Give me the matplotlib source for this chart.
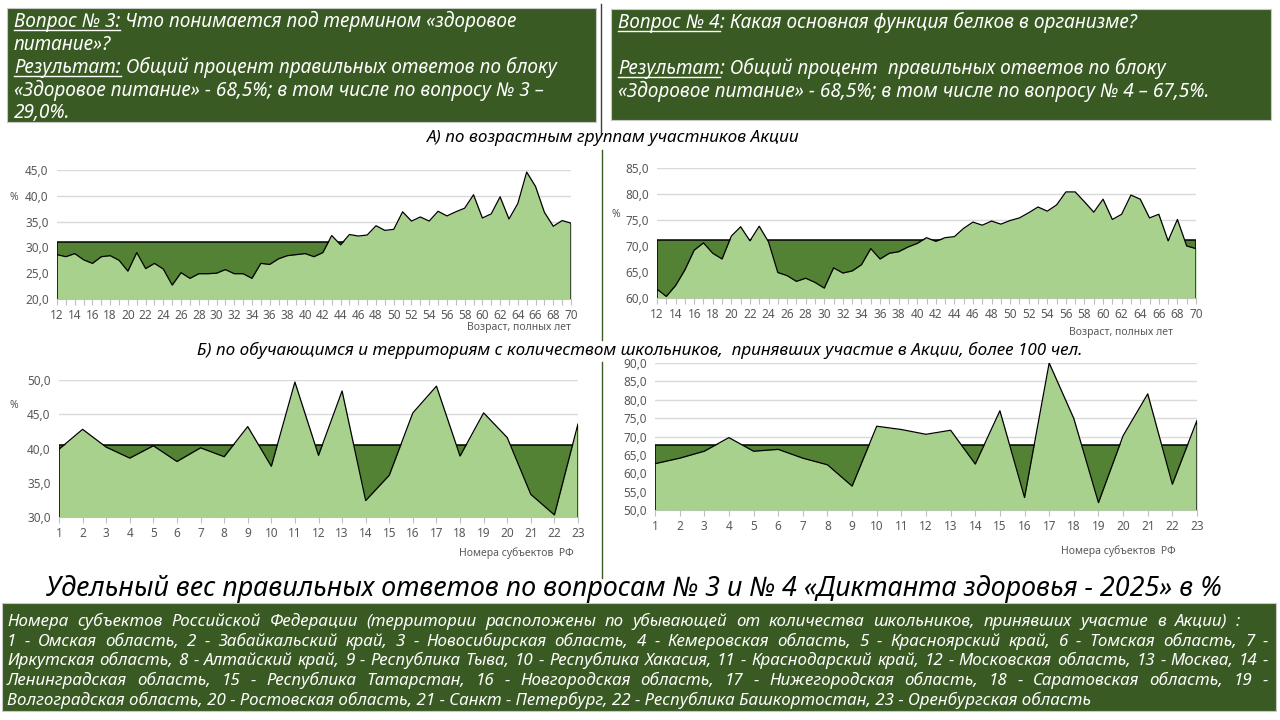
import numpy as np
import matplotlib
matplotlib.use("Agg")
import matplotlib.pyplot as plt
from matplotlib.patches import Rectangle
from matplotlib.lines import Line2D

# ── data ──────────────────────────────────────────────────────
ages = list(range(12, 71))
q3_by_age = [28.6, 28.2, 28.8, 27.6, 26.9, 28.2, 28.4, 27.5, 25.4, 29.0,
             25.9, 26.9, 25.8, 22.7, 25.1, 24.0, 24.9, 24.9, 25.0, 25.7,
             24.9, 24.9, 24.0, 26.9, 26.7, 27.8, 28.4, 28.6, 28.8, 28.2,
             29.0, 32.3, 30.5, 32.5, 32.2, 32.4, 34.2, 33.3, 33.5, 36.9,
             35.1, 35.9, 35.1, 37.0, 36.1, 36.9, 37.6, 40.2, 35.7, 36.5,
             39.8, 35.5, 38.5, 44.6, 41.8, 36.8, 34.1, 35.2, 34.7]
q3_age_avg = 31.0
q4_by_age = [61.7, 60.3, 62.4, 65.4, 69.2, 70.6, 68.6, 67.5, 71.9, 73.7,
             71.0, 73.8, 70.8, 64.9, 64.3, 63.2, 63.8, 63.0, 61.9, 65.8,
             64.8, 65.2, 66.4, 69.5, 67.5, 68.6, 68.9, 69.8, 70.5, 71.6,
             70.9, 71.6, 71.8, 73.4, 74.6, 74.0, 74.8, 74.2, 74.9, 75.4,
             76.4, 77.5, 76.7, 77.9, 80.4, 80.4, 78.5, 76.5, 79.0, 75.1,
             76.1, 79.8, 79.0, 75.4, 76.1, 71.0, 75.1, 70.0, 69.5]
q4_age_avg = 71.2

regions = list(range(1, 24))
q3_by_region = [39.9, 42.8, 40.2, 38.6, 40.4, 38.1, 40.1, 38.8, 43.2, 37.4,
                49.7, 39.0, 48.4, 32.4, 36.1, 45.2, 49.1, 38.9, 45.2, 41.6,
                33.3, 30.3, 43.6]
q3_region_avg = 40.5
q4_by_region = [62.6, 64.1, 66.0, 69.7, 66.0, 66.5, 64.1, 62.3, 56.5, 72.8,
                71.9, 70.6, 71.7, 62.5, 77.0, 53.4, 90.0, 74.9, 52.0, 70.2,
                81.6, 57.0, 74.4]
q4_region_avg = 67.7

legend_lines = [
    "Номера субъектов Российской Федерации (территории расположены по убывающей от количества школьников, принявших участие в Акции) :",
    "1 - Омская область, 2 - Забайкальский край, 3 - Новосибирская область, 4 - Кемеровская область, 5 - Красноярский край, 6 - Томская область, 7 -",
    "Иркутская область, 8 - Алтайский край, 9 - Республика Тыва, 10 - Республика Хакасия, 11 - Краснодарский край, 12 - Московская область, 13 - Москва, 14 -",
    "Ленинградская область, 15 - Республика Татарстан, 16 - Новгородская область, 17 - Нижегородская область, 18 - Саратовская область, 19 -",
    "Волгоградская область, 20 - Ростовская область, 21 - Санкт - Петербург, 22 - Республика Башкортостан, 23 - Оренбургская область",
]

# ── styles ────────────────────────────────────────────────────
FONT = ["Noto Sans", "DejaVu Sans"]
BOX = "#3A5A23"
DARK = "#548235"
LIGHT = "#A9D18E"
GREY = "#595959"
W, H = 1280, 720

plt.rcParams["font.family"] = FONT
fig = plt.figure(figsize=(W / 100, H / 100), dpi=100)
fig.patch.set_facecolor("white")
renderer = fig.canvas.get_renderer()


def fx(x):
    return x / W


def fy(y):
    return 1 - y / H


def text_width(s, size, style="italic"):
    t = fig.text(0, 0, s, fontsize=size, fontstyle=style)
    w = t.get_window_extent(renderer).width
    t.remove()
    return w


def fit_size(s, target, style="italic"):
    return 10 * target / text_width(s, 10, style)


def box(x0, y0, x1, y1):
    fig.add_artist(Rectangle((fx(x0), fy(y1)), fx(x1 - x0), (y1 - y0) / H,
                             transform=fig.transFigure, facecolor=BOX,
                             edgecolor="#C8C8C8", lw=0.8))


def vline(x, y0, y1, color):
    fig.add_artist(Line2D([fx(x), fx(x)], [fy(y0), fy(y1)],
                          transform=fig.transFigure, color=color, lw=1))


def draw_runs(x, y, runs, size, color="white"):
    space = text_width("а а", size) - text_width("аа", size)
    for s, underline in runs:
        if s.startswith(" "):
            x += space
            s = s[1:]
        t = fig.text(fx(x), fy(y), s, fontsize=size, fontstyle="italic",
                     color=color, ha="left", va="baseline")
        w = t.get_window_extent(renderer).width
        if underline:
            fig.add_artist(Line2D([fx(x), fx(x + w)], [fy(y + 3)] * 2,
                                  transform=fig.transFigure, color=color, lw=1))
        x += w


def justify(line, x0, x1, y, size, color="white"):
    words = line.split()
    widths = [text_width(wd, size) for wd in words]
    gap = (x1 - x0 - sum(widths)) / (len(words) - 1)
    x = x0
    for wd, ww in zip(words, widths):
        fig.text(fx(x), fy(y), wd, fontsize=size, fontstyle="italic",
                 color=color, ha="left", va="baseline")
        x += ww + gap


def area_chart(px, x, y, avg, ylim, ystep, every, xlabel, xlabel_xy, pct_xy):
    left, top, right, bottom = px
    ax = fig.add_axes([fx(left), fy(bottom), fx(right - left), (bottom - top) / H])
    x = np.asarray(x)
    y = np.asarray(y)
    avg_line = np.full(len(x), avg)
    base = ylim[0]
    ax.fill_between(x, base, avg_line, color=DARK, lw=0, zorder=2)
    ax.plot(np.r_[x[0], x, x[-1]], np.r_[base, avg_line, base],
            color="black", lw=1.1, zorder=3)
    ax.fill_between(x, base, y, color=LIGHT, lw=0, zorder=4)
    ax.plot(np.r_[x[0], x, x[-1]], np.r_[base, y, base],
            color="black", lw=0.9, zorder=5)
    ax.set_xlim(x[0], x[-1])
    ax.set_ylim(*ylim)
    yt = np.arange(ylim[0], ylim[1] + 0.01, ystep)
    ax.set_yticks(yt)
    ax.set_yticklabels([f"{v:.1f}".replace(".", ",") for v in yt],
                       fontsize=8.5, color=GREY)
    ax.set_xticks(x)
    ax.set_xticklabels([str(v) if (v - x[0]) % every == 0 else "" for v in x],
                       fontsize=8.5, color=GREY)
    ax.tick_params(axis="y", length=0, pad=6)
    ax.tick_params(axis="x", length=4, color="#BFBFBF", pad=3)
    ax.yaxis.grid(True, color="#D9D9D9", lw=1)
    ax.set_axisbelow(True)
    for side in ("top", "right", "left"):
        ax.spines[side].set_visible(False)
    ax.spines["bottom"].set_color("#BFBFBF")
    ax.patch.set_alpha(0)
    fig.text(fx(xlabel_xy[0]), fy(xlabel_xy[1]), xlabel, fontsize=7.5,
             color=GREY, ha="right", va="center")
    if pct_xy:
        fig.text(fx(pct_xy[0]), fy(pct_xy[1]), "%", fontsize=7.5,
                 color=GREY, ha="left", va="center")
    return ax


# ── header boxes ──────────────────────────────────────────────
box(7, 8, 596, 122)
box(611, 9, 1271, 120)
vline(601, 4, 134, "#404040")

hs = fit_size("«Здоровое питание» - 68,5%; в том числе по вопросу № 3 –", 531)
draw_runs(14, 27, [("Вопрос № 3:", True), (" Что понимается под термином «здоровое", False)], hs)
draw_runs(14, 50, [("питание»?", False)], hs)
draw_runs(14, 73, [("Результат:", True), (" Общий процент правильных ответов по блоку", False)], hs)
draw_runs(14, 96, [("«Здоровое питание» - 68,5%; в том числе по вопросу № 3 –", False)], hs)
draw_runs(14, 118, [("29,0%.", False)], hs)

draw_runs(618, 28, [("Вопрос № 4", True), (": Какая основная функция белков в организме?", False)], hs)
draw_runs(618, 74, [("Результат", True), (": Общий процент  правильных ответов по блоку", False)], hs)
draw_runs(618, 97, [("«Здоровое питание» - 68,5%; в том числе по вопросу № 4 – 67,5%.", False)], hs)

cap_a = "А) по возрастным группам участников Акции"
fig.text(fx(613), fy(138), cap_a, fontsize=fit_size(cap_a, 373), fontstyle="italic",
         ha="center", va="center", color="black")
cap_b = "Б) по обучающимся и территориям с количеством школьников,  принявших участие в Акции, более 100 чел."
fig.text(fx(640), fy(350), cap_b, fontsize=fit_size(cap_b, 887), fontstyle="italic",
         ha="center", va="center", color="black")

vline(602, 150, 340, "#3B5A24")
vline(602, 362, 578, "#3B5A24")

# ── charts ────────────────────────────────────────────────────
area_chart((57, 170, 571, 299), ages, q3_by_age, q3_age_avg, (20, 45), 5, 2,
           "Возраст, полных лет", (571, 328), (10, 197))
area_chart((657, 168, 1196, 298), ages, q4_by_age, q4_age_avg, (60, 85), 5, 2,
           "Возраст, полных лет", (1173, 332), (611, 214))
area_chart((59, 380, 578, 517), regions, q3_by_region, q3_region_avg, (30, 50), 5, 1,
           "Номера субъектов  РФ", (574, 553), (10, 405))
area_chart((655, 363, 1197, 510), regions, q4_by_region, q4_region_avg, (50, 90), 5, 1,
           "Номера субъектов  РФ", (1176, 551), None)

# ── title ─────────────────────────────────────────────────────
title = "Удельный вес правильных ответов по вопросам № 3 и № 4 «Диктанта здоровья - 2025» в %"
fig.text(fx(634), fy(589), title, fontsize=fit_size(title, 1177), fontstyle="italic",
         ha="center", va="center", color="black")

# ── legend box ────────────────────────────────────────────────
box(2, 603, 1276, 711)
ls = fit_size(legend_lines[4], 1085)
baselines = [626, 646, 665, 685, 705]
rights = [1240, 1268, 1268, 1268, None]
for line, yb, xr in zip(legend_lines, baselines, rights):
    if xr is None:
        fig.text(fx(7), fy(yb), line, fontsize=ls, fontstyle="italic",
                 color="white", ha="left", va="baseline")
    else:
        justify(line, 7, xr, yb, ls)

fig.savefig("out.png", dpi=100)
